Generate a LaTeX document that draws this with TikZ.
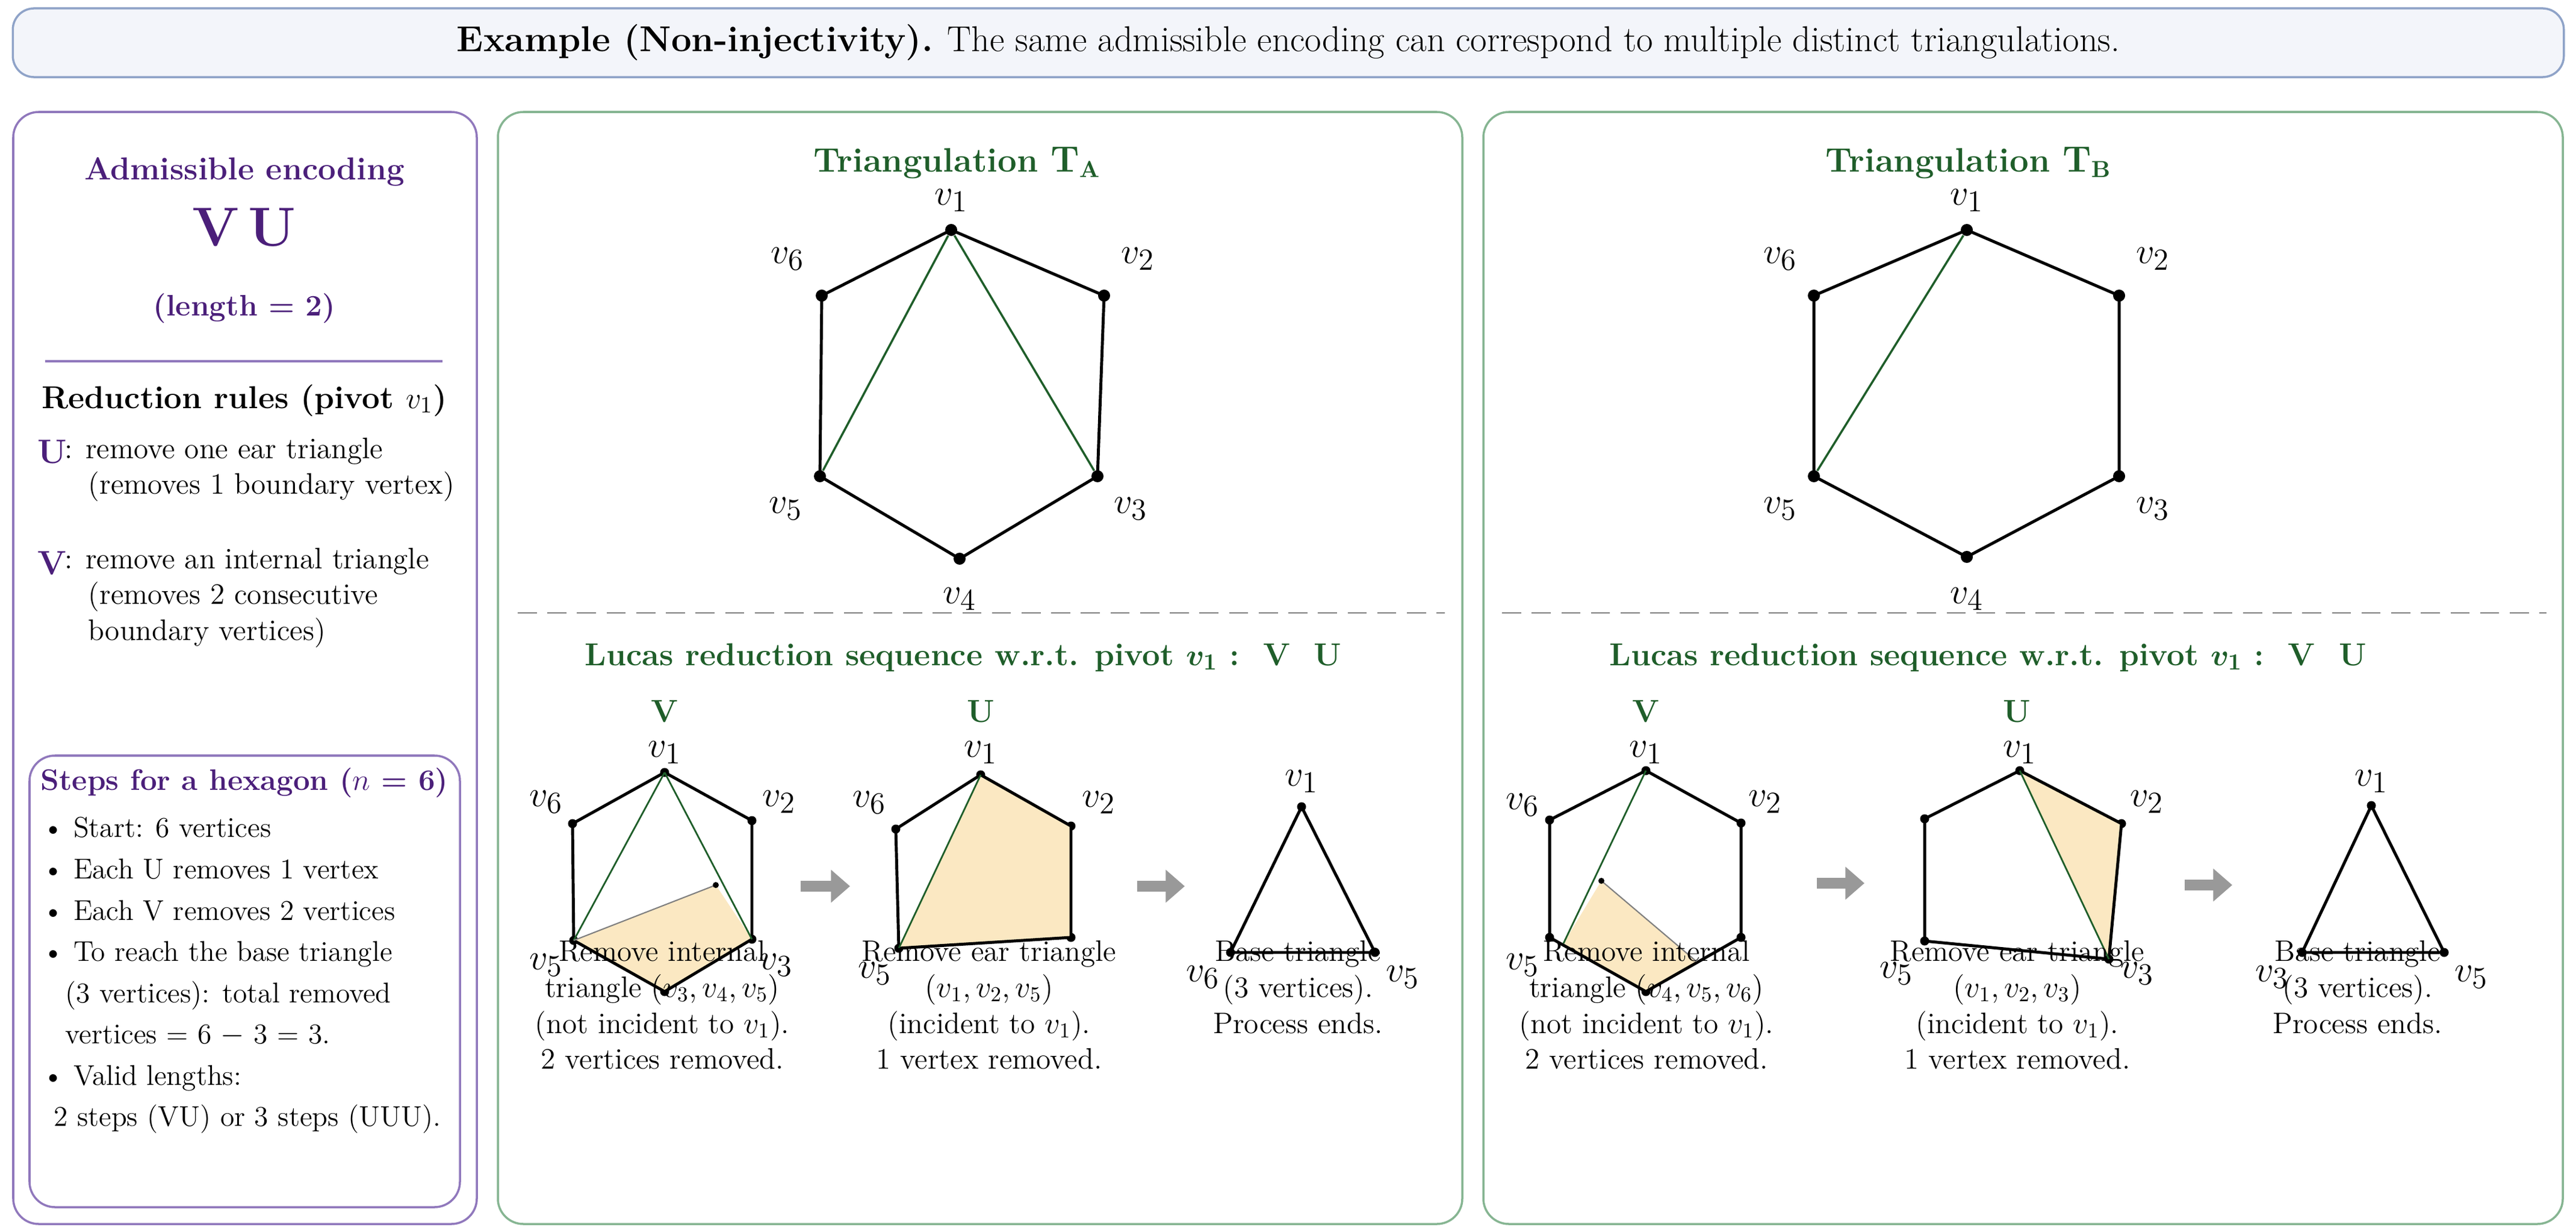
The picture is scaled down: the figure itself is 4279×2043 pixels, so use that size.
\documentclass[tikz,border=0pt]{standalone}
\usepackage{amsmath}
\usepackage{xcolor}
\usetikzlibrary{arrows.meta,positioning,calc}
\definecolor{hdrfill}{HTML}{F3F5FA}
\definecolor{hdrdraw}{HTML}{8FA3C8}
\definecolor{encpurple}{HTML}{4B1F7A}
\definecolor{encdraw}{HTML}{9078BC}
\definecolor{trigreen}{HTML}{1F5E2A}
\definecolor{paneldraw}{HTML}{86B592}
\definecolor{earfill}{HTML}{FBE8C2}
\definecolor{stepgray}{HTML}{999999}

\tikzset{
  panel/.style={draw=paneldraw,line width=1pt,rounded corners=12pt,fill=white},
  vtx/.style={circle,fill=black,inner sep=0pt,minimum size=0.2cm},
  svtx/.style={circle,fill=black,inner sep=0pt,minimum size=0.15cm},
  vlab/.style={font=\fontsize{19}{19}\selectfont},
  hexedge/.style={line width=1.4pt},
  diag/.style={trigreen,line width=1pt},
  cut/.style={gray,line width=0.6pt},
  capt/.style={font=\fontsize{14}{17}\selectfont,align=center,anchor=north},
  redarrow/.style={stepgray,line width=5pt,-{Triangle[length=9pt,width=15pt]}},
  optitle/.style={trigreen,font=\bfseries\fontsize{16}{16}\selectfont},
}

\begin{document}
\begin{tikzpicture}[x=0.01cm,y=-0.01cm]
\useasboundingbox (0,0) rectangle (4279,2043);

% header
\node[draw=hdrdraw,fill=hdrfill,rounded corners=10pt,line width=1pt,minimum width=42.35cm,minimum height=1.14cm] (header) at (2140,71)
  {\fontsize{17}{17}\selectfont\textbf{Example (Non-injectivity).} The same admissible encoding can correspond to multiple distinct triangulations.};

% left column
\draw[draw=encdraw,line width=1pt,rounded corners=12pt,fill=white] (22,186) rectangle (792,2033);
\node[encpurple,font=\bfseries\fontsize{15}{15}\selectfont] (enctitle) at (406,285) {Admissible encoding};
\node[encpurple,font=\bfseries\fontsize{26}{26}\selectfont] (enc) at (406,378) {V\,U};
\node[encpurple,font=\bfseries\fontsize{14}{14}\selectfont] (enclen) at (406,512) {(length = 2)};
\draw[encdraw,line width=1pt] (75,600) -- (735,600);
\node[font=\bfseries\fontsize{15}{15}\selectfont] (rules) at (406,665) {Reduction rules (pivot $v_1$)};
\node[encpurple,font=\bfseries\fontsize{16}{16}\selectfont,anchor=west] (ruleU) at (50,751) {U};
\node[font=\fontsize{14}{17}\selectfont,align=left,anchor=west] (ruleUtxt) at (95,780) {: remove one ear triangle\\\hspace*{0.8em}(removes 1 boundary vertex)};
\node[encpurple,font=\bfseries\fontsize{16}{16}\selectfont,anchor=west] (ruleV) at (50,935) {V};
\node[font=\fontsize{14}{17}\selectfont,align=left,anchor=west] (ruleVtxt) at (95,993) {: remove an internal triangle\\\hspace*{0.8em}(removes 2 consecutive\\\hspace*{0.8em}boundary vertices)};

\draw[draw=encdraw,line width=1pt,rounded corners=12pt] (49,1255) rectangle (764,2005);
\node[encpurple,font=\bfseries\fontsize{14}{14}\selectfont] (steps) at (406,1300) {Steps for a hexagon ($n$ = 6)};
\node[font=\fontsize{13.5}{19.5}\selectfont,align=left,anchor=north west] (steplist) at (58,1345)
  {\textbullet\ Start: 6 vertices\\
   \textbullet\ Each U removes 1 vertex\\
   \textbullet\ Each V removes 2 vertices\\
   \textbullet\ To reach the base triangle\\
   \hspace*{0.8em}(3 vertices): total removed\\
   \hspace*{0.8em}vertices = 6 $-$ 3 = 3.\\
   \textbullet\ Valid lengths:\\
   \hspace*{0.4em}2 steps (VU) or 3 steps (UUU).};

% panels
\draw[panel] (827,186) rectangle (2429,2033);
\draw[panel] (2464,186) rectangle (4257,2033);
\draw[dashed,dash pattern=on 9pt off 5pt,gray,line width=0.8pt] (860,1018) -- (2400,1018);
\draw[dashed,dash pattern=on 9pt off 5pt,gray,line width=0.8pt] (2495,1018) -- (4230,1018);

% triangulation A
\node[optitle] (titleA) at (1590,270) {Triangulation $\mathbf{T_A}$};
\node[vtx] (a1) at (1580,382) {};
\node[vtx] (a2) at (1834,491) {};
\node[vtx] (a3) at (1823,791) {};
\node[vtx] (a4) at (1594,928) {};
\node[vtx] (a5) at (1362,791) {};
\node[vtx] (a6) at (1365,491) {};
\draw[hexedge] (a1.center) -- (a2.center) -- (a3.center) -- (a4.center) -- (a5.center) -- (a6.center) -- cycle;
\draw[diag] (a1) -- (a5);
\draw[diag] (a1) -- (a3);
\node[vlab] at (1580,333) {$v_1$};
\node[vlab] at (1890,430) {$v_2$};
\node[vlab] at (1878,845) {$v_3$};
\node[vlab] at (1594,995) {$v_4$};
\node[vlab] at (1305,845) {$v_5$};
\node[vlab] at (1308,430) {$v_6$};

% triangulation B
\node[optitle] (titleB) at (3270,270) {Triangulation $\mathbf{T_B}$};
\node[vtx] (b1) at (3267,382) {};
\node[vtx] (b2) at (3520,491) {};
\node[vtx] (b3) at (3520,791) {};
\node[vtx] (b4) at (3267,925) {};
\node[vtx] (b5) at (3013,791) {};
\node[vtx] (b6) at (3013,491) {};
\draw[hexedge] (b1.center) -- (b2.center) -- (b3.center) -- (b4.center) -- (b5.center) -- (b6.center) -- cycle;
\draw[diag] (b1) -- (b5);
\node[vlab] at (3267,333) {$v_1$};
\node[vlab] at (3576,430) {$v_2$};
\node[vlab] at (3576,845) {$v_3$};
\node[vlab] at (3267,995) {$v_4$};
\node[vlab] at (2957,845) {$v_5$};
\node[vlab] at (2957,430) {$v_6$};

% reduction sequences
\node[trigreen,font=\bfseries\fontsize{15}{15}\selectfont] (seqA) at (1600,1092) {Lucas reduction sequence w.r.t. pivot $\boldsymbol{v_1}$ :\ \ V\ \ U};
\node[trigreen,font=\bfseries\fontsize{15}{15}\selectfont] (seqB) at (3302,1092) {Lucas reduction sequence w.r.t. pivot $\boldsymbol{v_1}$ :\ \ V\ \ U};

% A: step V
\node[svtx] (p1) at (1104,1283) {};
\node[svtx] (p2) at (1249,1363) {};
\node[svtx] (p3) at (1249,1560) {};
\node[svtx] (p4) at (1104,1647) {};
\node[svtx] (p5) at (953,1562) {};
\node[svtx] (p6) at (951,1368) {};
\coordinate (pm) at (1189,1470);
\fill[earfill] (p5.center) -- (pm) -- (p3.center) -- (p4.center) -- cycle;
\draw[hexedge] (p1.center) -- (p2.center) -- (p3.center) -- (p4.center) -- (p5.center) -- (p6.center) -- cycle;
\draw[diag,line width=0.8pt] (p1.center) -- (p5.center);
\draw[diag,line width=0.8pt] (p1.center) -- (p3.center);
\draw[cut] (p5.center) -- (pm);
\fill (pm) circle (5);
\node[trigreen,font=\bfseries\fontsize{15}{15}\selectfont] at (1104,1182) {V};
\node[vlab] at (1104,1250) {$v_1$};
\node[vlab] at (907,1332) {$v_6$};
\node[vlab] at (1294,1332) {$v_2$};
\node[vlab] at (907,1603) {$v_5$};
\node[vlab] at (1289,1603) {$v_3$};
\node[capt] (capA1) at (1100,1550) {Remove internal\\triangle $(v_3, v_4, v_5)$\\(not incident to $v_1$).\\2 vertices removed.};

\coordinate (sa1) at (1330,1472);
\coordinate (ea1) at (1412,1472);
\draw[redarrow] (sa1) -- (ea1);

% A: step U
\node[svtx] (q1) at (1629,1287) {};
\node[svtx] (q2) at (1779,1372) {};
\node[svtx] (q3) at (1779,1557) {};
\node[svtx] (q5) at (1493,1575) {};
\node[svtx] (q6) at (1488,1377) {};
\fill[earfill] (q1.center) -- (q2.center) -- (q3.center) -- (q5.center) -- cycle;
\draw[hexedge] (q1.center) -- (q2.center) -- (q3.center) -- (q5.center) -- (q6.center) -- cycle;
\draw[diag,line width=0.8pt] (q1.center) -- (q5.center);
\node[trigreen,font=\bfseries\fontsize{15}{15}\selectfont] at (1629,1182) {U};
\node[vlab] at (1629,1250) {$v_1$};
\node[vlab] at (1444,1333) {$v_6$};
\node[vlab] at (1825,1333) {$v_2$};
\node[vlab] at (1453,1617) {$v_5$};
\node[capt] (capA2) at (1643,1550) {Remove ear triangle\\$(v_1, v_2, v_5)$\\(incident to $v_1$).\\1 vertex removed.};

\coordinate (sa2) at (1889,1472);
\coordinate (ea2) at (1968,1472);
\draw[redarrow] (sa2) -- (ea2);

% A: base
\node[svtx] (r1) at (2162,1340) {};
\node[svtx] (r6) at (2044,1582) {};
\node[svtx] (r5) at (2284,1582) {};
\draw[hexedge] (r1.center) -- (r5.center) -- (r6.center) -- cycle;
\node[vlab] at (2162,1298) {$v_1$};
\node[vlab] at (1998,1623) {$v_6$};
\node[vlab] at (2330,1623) {$v_5$};
\node[capt] (capA3) at (2156,1550) {Base triangle\\(3 vertices).\\Process ends.};

% B: step V
\node[svtx] (s1) at (2734,1280) {};
\node[svtx] (s2) at (2892,1367) {};
\node[svtx] (s3) at (2892,1557) {};
\node[svtx] (s4) at (2734,1647) {};
\node[svtx] (s5) at (2574,1557) {};
\node[svtx] (s6) at (2574,1362) {};
\coordinate (sm) at (2660,1463);
\coordinate (sn) at (2818,1597);
\coordinate (sk) at (2597,1567);
\fill[earfill] (sm) -- (sk) -- (s4.center) -- (sn) -- cycle;
\draw[hexedge] (s1.center) -- (s2.center) -- (s3.center) -- (s4.center) -- (s5.center) -- (s6.center) -- cycle;
\draw[diag,line width=0.8pt] (s1.center) -- (sk);
\draw[cut] (sm) -- (sn);
\fill (sm) circle (5);
\node[trigreen,font=\bfseries\fontsize{15}{15}\selectfont] at (2734,1182) {V};
\node[vlab] at (2734,1250) {$v_1$};
\node[vlab] at (2529,1337) {$v_6$};
\node[vlab] at (2932,1332) {$v_2$};
\node[vlab] at (2529,1603) {$v_5$};
\node[capt] (capB1) at (2735,1550) {Remove internal\\triangle $(v_4, v_5, v_6)$\\(not incident to $v_1$).\\2 vertices removed.};

\coordinate (sb1) at (3018,1467);
\coordinate (eb1) at (3097,1467);
\draw[redarrow] (sb1) -- (eb1);

% B: step U
\node[svtx] (t1) at (3355,1280) {};
\node[svtx] (t2) at (3524,1368) {};
\node[svtx] (t3) at (3503,1593) {};
\node[svtx] (t5) at (3197,1563) {};
\node[svtx] (t6) at (3197,1360) {};
\fill[earfill] (t1.center) -- (t2.center) -- (t3.center) -- cycle;
\draw[hexedge] (t1.center) -- (t2.center) -- (t3.center) -- (t5.center) -- (t6.center) -- cycle;
\draw[diag,line width=0.8pt] (t1.center) -- (t3.center);
\node[trigreen,font=\bfseries\fontsize{15}{15}\selectfont] at (3350,1182) {U};
\node[vlab] at (3355,1250) {$v_1$};
\node[vlab] at (3566,1332) {$v_2$};
\node[vlab] at (3150,1617) {$v_5$};
\node[vlab] at (3550,1617) {$v_3$};
\node[capt] (capB2) at (3351,1550) {Remove ear triangle\\$(v_1, v_2, v_3)$\\(incident to $v_1$).\\1 vertex removed.};

\coordinate (sb2) at (3629,1470);
\coordinate (eb2) at (3708,1470);
\draw[redarrow] (sb2) -- (eb2);

% B: base
\node[svtx] (u1) at (3939,1338) {};
\node[svtx] (u3) at (3824,1582) {};
\node[svtx] (u5) at (4060,1582) {};
\draw[hexedge] (u1.center) -- (u5.center) -- (u3.center) -- cycle;
\node[vlab] at (3939,1298) {$v_1$};
\node[vlab] at (3774,1623) {$v_3$};
\node[vlab] at (4105,1623) {$v_5$};
\node[capt] (capB3) at (3916,1550) {Base triangle\\(3 vertices).\\Process ends.};
\end{tikzpicture}
\end{document}
